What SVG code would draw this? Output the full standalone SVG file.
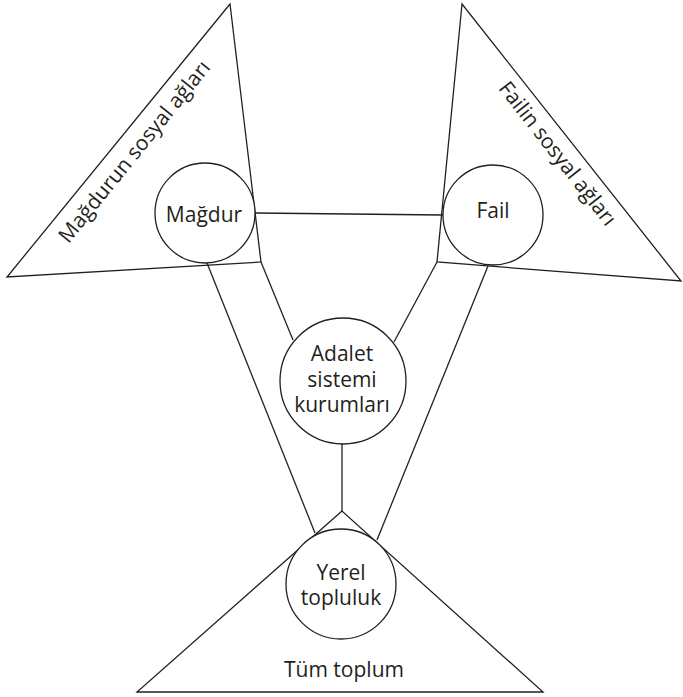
<svg xmlns="http://www.w3.org/2000/svg" width="683" height="697" viewBox="0 0 683 697">
<style>
.s{fill:none;stroke:#231f20;stroke-width:1.3}
.c{fill:#fff;stroke:#231f20;stroke-width:1.3}
text{font-family:"Open Sans","Noto Sans","Liberation Sans",sans-serif;font-size:21px;fill:#231f20;text-anchor:middle}
</style>
<rect width="683" height="697" fill="#fff"/>
<g id="tri-magdur-networks">
<polygon class="s" points="230,4 7,277 261,262"/>
<text transform="translate(140,156) rotate(-51)">Mağdurun sosyal ağları</text>
</g>
<g id="tri-fail-networks">
<polygon class="s" points="462,4 437,262 681,281"/>
<text transform="translate(552,158) rotate(52)">Failin sosyal ağları</text>
</g>
<g id="tri-society">
<polygon class="s" points="342,511 137,692 543,692"/>
<text x="344" y="677">Tüm toplum</text>
</g>
<g id="connectors">
<line class="s" x1="255" y1="213" x2="443" y2="215"/>
<line class="s" x1="207" y1="263" x2="315" y2="533"/>
<line class="s" x1="261" y1="262" x2="293" y2="340"/>
<line class="s" x1="437" y1="262" x2="394" y2="342"/>
<line class="s" x1="488" y1="266" x2="377" y2="540"/>
<line class="s" x1="342" y1="444" x2="342" y2="511"/>
</g>
<g id="magdur">
<circle class="c" cx="205" cy="213" r="50"/>
<text x="204" y="222">Mağdur</text>
</g>
<g id="fail">
<circle class="c" cx="493" cy="215" r="50"/>
<text x="493" y="218">Fail</text>
</g>
<g id="adalet">
<circle class="c" cx="343" cy="381" r="63"/>
<text x="342" y="361">Adalet</text>
<text x="342" y="387">sistemi</text>
<text x="342" y="412">kurumları</text>
</g>
<g id="yerel">
<circle class="c" cx="341" cy="584" r="55"/>
<text x="341" y="580">Yerel</text>
<text x="341" y="605">topluluk</text>
</g>
</svg>
